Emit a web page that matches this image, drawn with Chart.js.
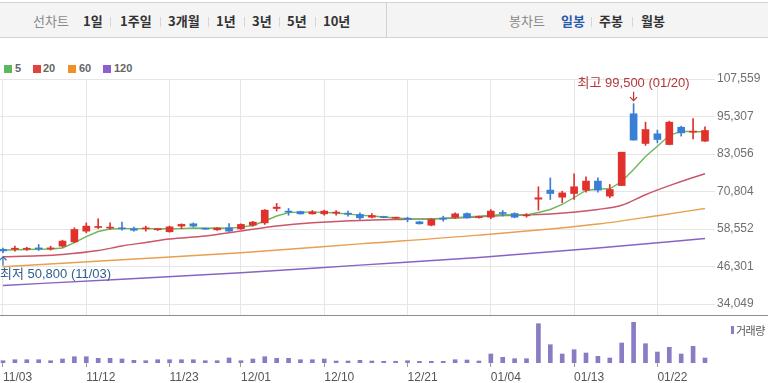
<!DOCTYPE html>
<html><head><meta charset="utf-8">
<script src="https://cdn.jsdelivr.net/npm/chart.js@4.4.1/dist/chart.umd.min.js"></script>
<style>
html,body{margin:0;padding:0;background:#fff;width:768px;height:383px;overflow:hidden;font-family:'Liberation Sans','Noto Sans CJK KR',sans-serif;}
#bar{position:absolute;left:0;top:2px;width:768px;height:34px;background:#f4f4f4;border-top:1px solid #d2d2d2;border-bottom:1px solid #d2d2d2;}
.t{position:absolute;top:1px;line-height:34px;font-size:13px;font-weight:bold;color:#333;white-space:nowrap;font-family:'Noto Sans CJK KR','Liberation Sans',sans-serif;}
.g{color:#8a8a8a;font-weight:normal;}
.sep{position:absolute;top:14px;width:1px;height:10px;background:#d6d6d6;}
.lg{position:absolute;top:65px;width:8px;height:8px;}
.lt{position:absolute;top:61px;line-height:15px;font-size:11px;font-weight:bold;color:#666;}
canvas{position:absolute;left:0;}
</style></head>
<body>
<div id="bar">
  <div style="position:absolute;left:386px;top:0;width:1px;height:34px;background:#d2d2d2"></div>
  <span class="t g" style="left:33px">선차트</span>
  <span class="t" style="left:83px">1일</span><span class="sep" style="left:110px"></span>
  <span class="t" style="left:120px">1주일</span><span class="sep" style="left:160px"></span>
  <span class="t" style="left:168px">3개월</span><span class="sep" style="left:208px"></span>
  <span class="t" style="left:216px">1년</span><span class="sep" style="left:244px"></span>
  <span class="t" style="left:252px">3년</span><span class="sep" style="left:279px"></span>
  <span class="t" style="left:287px">5년</span><span class="sep" style="left:315px"></span>
  <span class="t" style="left:323px">10년</span>
  <span class="t g" style="left:509px">봉차트</span>
  <span class="t" style="left:561px;color:#2a5aa8">일봉</span><span class="sep" style="left:591px"></span>
  <span class="t" style="left:599px">주봉</span><span class="sep" style="left:632px"></span>
  <span class="t" style="left:641px">월봉</span>
</div>
<div class="lg" style="left:4px;background:#5cb85c"></div><span class="lt" style="left:15px">5</span>
<div class="lg" style="left:33px;background:#e0443e"></div><span class="lt" style="left:43px">20</span>
<div class="lg" style="left:68px;background:#f0902a"></div><span class="lt" style="left:79px">60</span>
<div class="lg" style="left:103px;background:#8f5fcf"></div><span class="lt" style="left:114px">120</span>
<canvas id="c1" width="768" height="275" style="top:40px;width:768px;height:275px"></canvas>
<div style="position:absolute;left:0;top:315px;width:768px;height:1px;background:#8c8c8c"></div>
<canvas id="c2" width="768" height="67" style="top:316px;width:768px;height:67px"></canvas>
<div style="position:absolute;left:731px;top:326px;width:3px;height:8px;background:#8b7bc4"></div>
<span style="position:absolute;left:736px;top:322px;line-height:16px;font-size:11px;color:#555;font-family:'Noto Sans CJK KR',sans-serif;letter-spacing:-0.5px">거래량</span>
<script>
const dates = ['11/03','11/04','11/05','11/06','11/09','11/10','11/11','11/12','11/13','11/16',
 '11/17','11/18','11/19','11/20','11/23','11/24','11/25','11/26','11/27','11/30',
 '12/01','12/02','12/03','12/04','12/07','12/08','12/09','12/10','12/11','12/14',
 '12/15','12/16','12/17','12/18','12/21','12/22','12/23','12/24','12/28','12/29',
 '12/30','01/04','01/05','01/06','01/07','01/08','01/11','01/12','01/13','01/14',
 '01/15','01/18','01/19','01/20','01/21','01/22','01/25','01/26','01/27','01/28'];
const opens  = [51900,51950,51950,52300,52050,52950,54350,57850,59050,58850,58950,58600,58600,58300,57650,59500,60250,58700,58300,58950,
 58600,59800,60550,65250,64400,64250,63500,63500,63750,63600,63300,62400,62650,62100,62100,60900,59800,62100,62400,63600,
 62300,62400,63950,63600,62850,68300,71250,68950,70150,71250,74200,69300,72750,96200,86500,89650,86150,91800,90200,87250];
const highs  = [52300,52950,52600,53500,52950,54900,58950,60550,61900,60550,60800,59150,59500,58700,59500,60250,60550,58850,59050,60350,
 60250,61100,64900,66900,65250,64400,64600,64700,64600,64400,63850,63600,62750,62400,62400,61100,61900,62750,63850,63850,
 62750,64900,64600,63850,63600,72350,75250,70900,76600,75600,75250,73100,83650,99500,93450,90850,93800,92150,94650,91950];
const lows   = [50800,51300,51550,51550,51650,52600,54050,57300,58700,58400,58150,57850,57850,58050,57500,58700,59250,58400,58050,57750,
 58400,59500,60050,64400,63050,63400,63400,63050,63050,62750,61650,62200,62200,62000,60900,60150,59600,61100,62000,62100,
 62100,61900,62750,62200,62400,64700,68200,67100,68200,70600,70600,68750,72750,87600,85850,86700,86050,88900,88000,87150];
const closes = [51400,52200,52150,52050,52300,54600,58400,59500,59350,59150,58600,58150,58850,58500,59250,60050,59500,58500,58850,57850,
 60050,60800,64700,65700,64050,63500,64150,64400,63950,63400,62200,62950,62300,62300,61750,60250,61650,61750,63500,62200,
 62550,64400,63600,62400,63050,68750,70150,70350,72350,74200,71250,71450,83650,87600,91050,87800,93450,89950,90500,90750];
const volumes = [115,165,165,165,115,200,315,315,235,235,200,135,115,165,165,165,165,115,115,250,
 115,200,315,235,235,165,165,200,100,100,135,100,85,85,115,85,85,85,165,150,
 100,450,285,215,215,1965,915,450,665,500,335,250,1000,2035,965,550,785,450,835,250];
const ma5 = [51630,51760,51860,51920,52020,52350,54120,56080,57740,58530,58690,58690,58690,58620,58620,58690,58860,58790,58860,58790,
 59180,59700,61170,62800,63920,64080,64080,64000,63780,63430,63100,62790,62460,62140,61880,61720,61820,61980,62210,62470,
 62730,63030,63190,63130,63130,63950,64930,66560,68850,71130,71630,71690,74070,78010,82250,85610,89100,90500,90310,90310];
const ma20Idx = [0,3,5,8,10,12,14,17,20,23,26,30,34,38,42,46,50,52,54,56,58,59];
const ma20    = [49470,49800,50230,51530,53000,54140,55290,56270,57900,59530,60580,61330,61750,62140,62960,63460,64930,66300,69750,72700,75380,76590];
const ma60Idx = [0,10,20,30,40,50,55,59];
const ma60    = [46200,48490,50780,53680,56560,60190,62900,65250];
const ma120Idx = [0,10,20,30,40,50,59];
const ma120    = [40090,42150,44240,46760,49240,52340,55450];
const xTickIdx = [0,7,14,20,27,34,41,48,55];
const yTickVals = [34049,46301,58552,70804,83056,95307,107559];
const yTickLabels = ['34,049','46,301','58,552','70,804','83,056','95,307','107,559'];

Chart.defaults.font.family = "'Liberation Sans','Noto Sans CJK KR',sans-serif";
const RED = '#e0312c', BLUE = '#3a7fd6';
const idxs = dates.map((d,i)=>i);
const XMIN = -0.252, XMAX = 59.842;
const candleColor = ctx => closes[ctx.dataIndex] >= opens[ctx.dataIndex] ? RED : BLUE;
const pts = (ix, vals) => ix.map((v,k)=>({x:v, y:vals[k]}));

function arrow(ctx, x, y0, y1, color){
  const d = Math.sign(y1 - y0);
  ctx.strokeStyle = color; ctx.lineWidth = 1.2;
  ctx.beginPath(); ctx.moveTo(x, y0); ctx.lineTo(x, y1); ctx.stroke();
  ctx.beginPath(); ctx.moveTo(x-3.5, y1 - 3.5*d); ctx.lineTo(x, y1); ctx.lineTo(x+3.5, y1 - 3.5*d); ctx.stroke();
}
const annot = {
  id:'annot',
  afterDatasetsDraw(chart){
    const {ctx, scales:{x, y}} = chart;
    let hi = 0, lo = 0;
    highs.forEach((v,i)=>{ if (v > highs[hi]) hi = i; });
    lows.forEach((v,i)=>{ if (v < lows[lo]) lo = i; });
    const fmt = v => v.toLocaleString('en-US');
    ctx.save();
    ctx.font = "13px 'Liberation Sans','Noto Sans CJK KR',sans-serif";
    ctx.textBaseline = 'middle'; ctx.textAlign = 'left';
    const hx = x.getPixelForValue(hi), hy = y.getPixelForValue(highs[hi]);
    const ht = '최고 ' + fmt(highs[hi]) + ' (' + dates[hi] + ')';
    const hw = ctx.measureText(ht).width;
    ctx.fillStyle = '#b3383a';
    ctx.fillText(ht, Math.min(Math.max(hx - hw/2, 0), x.right - hw), hy - 20.5);
    arrow(ctx, hx, hy - 12, hy - 3, '#c0392b');
    const lx = x.getPixelForValue(lo), ly = y.getPixelForValue(lows[lo]);
    const lt = '최저 ' + fmt(lows[lo]) + ' (' + dates[lo] + ')';
    const lw = ctx.measureText(lt).width;
    ctx.fillStyle = '#2f5f8e';
    ctx.fillText(lt, Math.min(Math.max(lx - lw/2, 0), x.right - lw), ly + 22);
    arrow(ctx, lx, ly + 13, ly + 4, '#2f6fb0');
    ctx.restore();
  }
};

new Chart(document.getElementById('c1'), {
  type:'bar',
  data:{ datasets:[
    {type:'bar', data: idxs.map(i=>({x:i, y:[opens[i], closes[i]]})), barThickness:7, minBarLength:1, grouped:false, backgroundColor:candleColor, order:0},
    {type:'bar', data: idxs.map(i=>({x:i, y:[lows[i], highs[i]]})), barThickness:1, grouped:false, backgroundColor:candleColor, order:1},
    {type:'line', data: pts(idxs, ma5), borderColor:'#6cb85a', borderWidth:1.4, pointRadius:0, order:2},
    {type:'line', data: pts(ma20Idx, ma20), borderColor:'#c9566a', borderWidth:1.4, pointRadius:0, cubicInterpolationMode:'monotone', order:3},
    {type:'line', data: pts(ma60Idx, ma60), borderColor:'#e8a050', borderWidth:1.4, pointRadius:0, cubicInterpolationMode:'monotone', order:4},
    {type:'line', data: pts(ma120Idx, ma120), borderColor:'#8564c4', borderWidth:1.4, pointRadius:0, cubicInterpolationMode:'monotone', order:5}
  ]},
  options:{
    responsive:false, animation:false, devicePixelRatio:1,
    layout:{padding:{top:39, left:0, right:0, bottom:0}},
    plugins:{legend:{display:false}, tooltip:{enabled:false}},
    scales:{
      x:{type:'linear', min:XMIN, max:XMAX, offset:false,
         grid:{offset:false, color:'#e6e6e6', drawTicks:false}, border:{display:false},
         ticks:{display:false},
         afterBuildTicks:s=>{ s.ticks = xTickIdx.map(v=>({value:v})); },
         afterFit:s=>{ s.height = 0; s.paddingLeft = 0; s.paddingRight = 0; }},
      y:{type:'linear', position:'right', min:30457, max:107559, beginAtZero:false,
         grid:{color:'#e6e6e6', drawTicks:false}, border:{display:false},
         ticks:{padding:2, color:'#6f6f6f', font:{size:12}, callback:(v,i)=>yTickLabels[i]},
         afterBuildTicks:s=>{ s.ticks = yTickVals.map(v=>({value:v})); },
         afterFit:s=>{ s.width = 53; s.paddingTop = 0; s.paddingBottom = 0; }}
    }
  },
  plugins:[annot]
});

new Chart(document.getElementById('c2'), {
  type:'bar',
  data:{ datasets:[
    {data: idxs.map(i=>({x:i, y:volumes[i]})), barThickness:4, backgroundColor:'#8b7bc4', grouped:false}
  ]},
  options:{
    responsive:false, animation:false, devicePixelRatio:1,
    layout:{padding:{top:0, left:0, right:53, bottom:0}},
    plugins:{legend:{display:false}, tooltip:{enabled:false}},
    scales:{
      x:{type:'linear', min:XMIN, max:XMAX, offset:false,
         grid:{offset:false, drawOnChartArea:false, drawTicks:true, tickLength:4, color:'#9a9a9a'}, border:{display:false},
         ticks:{color:'#555', font:{size:12}, padding:3, maxRotation:0, autoSkip:false, align:'start',
                callback:(v,i)=>dates[xTickIdx[i]]},
         afterBuildTicks:s=>{ s.ticks = xTickIdx.map(v=>({value:v})); },
         afterFit:s=>{ s.height = 20; s.paddingLeft = 0; s.paddingRight = 0; }},
      y:{display:false, min:0, max:2350, beginAtZero:true}
    }
  }
});
</script>
</body></html>
